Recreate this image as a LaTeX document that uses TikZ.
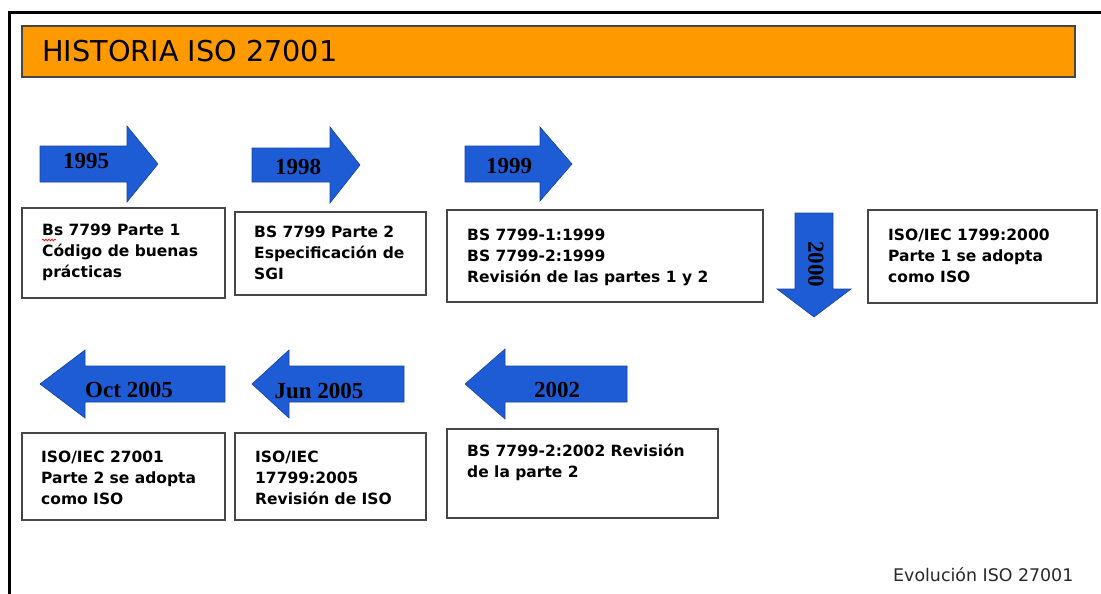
\documentclass[tikz,border=0pt]{standalone}
\usepackage{fontspec}
\setmainfont{DejaVu Sans}
\newfontfamily\arrfont{Liberation Serif}
\usetikzlibrary{decorations.pathmorphing}
\definecolor{titleorange}{RGB}{255,153,0}
\definecolor{arrowblue}{RGB}{30,92,214}
\definecolor{boxgray}{RGB}{70,70,70}
\definecolor{captiongray}{RGB}{40,40,40}
\tikzset{
  frameline/.style={line width=3.5pt, black},
  titlebar/.style={fill=titleorange, draw=boxgray, line width=1.2pt},
  titletext/.style={anchor=base west, inner sep=0pt, font=\fontsize{28.7}{32}\selectfont},
  infobox/.style={draw=boxgray, line width=1.4pt, fill=white},
  boxtext/.style={anchor=base west, inner sep=0pt, align=left, font=\fontsize{15.5}{21}\selectfont\bfseries},
  blockarrow/.style={fill=arrowblue, draw=arrowblue!75!black, line width=0.6pt},
  arrowlabel/.style={inner sep=0pt, font=\arrfont\bfseries\fontsize{23}{26}\selectfont},
  captiontext/.style={anchor=base west, inner sep=0pt, text=captiongray, font=\fontsize{17.4}{20}\selectfont},
}
% right-pointing block arrow: body left, head base, tip, centre y, body half, head half
\newcommand\RightBlock[6]{%
  \path[blockarrow] (#1,#4-#5) -- (#2,#4-#5) -- (#2,#4-#6) -- (#3,#4) -- (#2,#4+#6) -- (#2,#4+#5) -- (#1,#4+#5) -- cycle;}
% left-pointing block arrow: body right, head base, tip, centre y, body half, head half
\newcommand\LeftBlock[6]{%
  \path[blockarrow] (#1,#4-#5) -- (#2,#4-#5) -- (#2,#4-#6) -- (#3,#4) -- (#2,#4+#6) -- (#2,#4+#5) -- (#1,#4+#5) -- cycle;}
\begin{document}
\begin{tikzpicture}[x=1pt,y=-1pt]
\useasboundingbox (0,0) rectangle (1101,594);
\fill[white] (0,0) rectangle (1101,594);

% frame
\coordinate (ftl) at (9.5,12.5);
\coordinate (ftr) at (1101,12.5);
\coordinate (fbl) at (9.5,594);
\draw[frameline] (ftr) -- (ftl) -- (fbl);

% title bar
\draw[titlebar] (22,26) rectangle (1075,77);
\node[titletext] (title) at (42,62) {HISTORIA ISO 27001};

% top row arrows
\RightBlock{40}{127}{158}{164}{18}{38}
\node[arrowlabel] (a1995) at (86,161) {1995};
\RightBlock{252}{330}{360}{165}{17}{38}
\node[arrowlabel] (a1998) at (298,167) {1998};
\RightBlock{465}{540}{572}{164}{18}{37}
\node[arrowlabel] (a1999) at (509,166) {1999};

% down arrow 2000
\path[blockarrow] (795,213) -- (833,213) -- (833,289) -- (851,289) -- (814,317) -- (777,289) -- (795,289) -- cycle;
\node[arrowlabel, rotate=-90] (a2000) at (816,264) {2000};

% top row boxes (text node placed at baseline of its last line)
\draw[infobox] (22,208) rectangle (225,298);
\node[boxtext] (t1) at (42,277) {Bs 7799 Parte 1\\Código de buenas\\prácticas};
\draw[red, line width=0.7pt, decorate, decoration={snake, amplitude=0.9pt, segment length=3pt}] (42,240) -- (56,240);

\draw[infobox] (235,212) rectangle (426,295);
\node[boxtext] (t2) at (254,279) {BS 7799 Parte 2\\Especificación de\\SGI};

\draw[infobox] (447,210) rectangle (763,302);
\node[boxtext] (t3) at (467,282) {BS 7799-1:1999\\BS 7799-2:1999\\Revisión de las partes 1 y 2};

\draw[infobox] (868,210) rectangle (1097,303);
\node[boxtext] (t4) at (888,282) {ISO/IEC 1799:2000\\Parte 1 se adopta\\como ISO};

% bottom row arrows
\LeftBlock{225}{85}{40}{384}{18}{34}
\node[arrowlabel] (aoct) at (129,390) {Oct 2005};
\LeftBlock{404}{289}{252}{384}{18}{34}
\node[arrowlabel] (ajun) at (319,391) {Jun 2005};
\LeftBlock{627}{505}{465}{384}{18}{35}
\node[arrowlabel] (a2002) at (557,390) {2002};

% bottom row boxes
\draw[infobox] (22,433) rectangle (225,520);
\node[boxtext] (t5) at (41,504) {ISO/IEC 27001\\Parte 2 se adopta\\como ISO};

\draw[infobox] (235,433) rectangle (426,520);
\node[boxtext] (t6) at (255,504) {ISO/IEC\\17799:2005\\Revisión de ISO};

\draw[infobox] (447,429) rectangle (718,518);
\node[boxtext] (t7) at (467,477) {BS 7799-2:2002 Revisión\\de la parte 2};

% caption
\node[captiontext] (cap) at (893,581) {Evolución ISO 27001};
\end{tikzpicture}
\end{document}
